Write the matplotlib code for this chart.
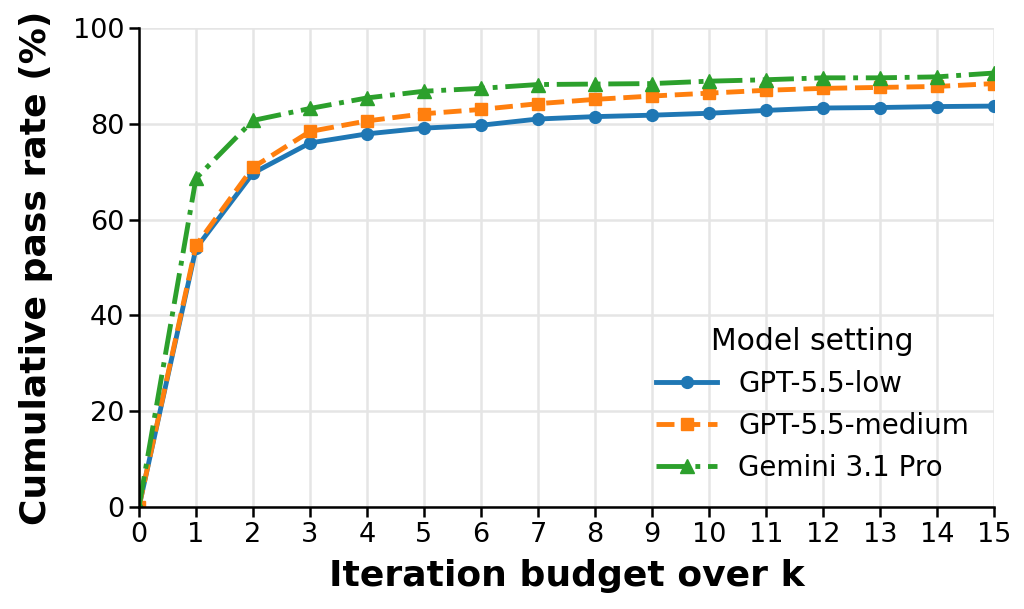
import matplotlib
matplotlib.use("Agg")
import matplotlib.pyplot as plt

# iteration budget k
k = list(range(16))

gpt_low = [0, 54.0, 69.7, 76.0, 77.9, 79.1, 79.7, 81.0, 81.5, 81.8, 82.2, 82.8, 83.3, 83.4, 83.6, 83.7]
gpt_medium = [0, 54.6, 70.9, 78.4, 80.6, 82.1, 83.0, 84.2, 85.1, 85.8, 86.4, 87.0, 87.4, 87.6, 87.8, 88.4]
gemini = [0, 68.6, 80.7, 83.2, 85.4, 86.8, 87.4, 88.2, 88.3, 88.4, 88.9, 89.2, 89.6, 89.6, 89.8, 90.6]

fig = plt.figure(figsize=(10.24, 6.09), dpi=100)
ax = fig.add_axes([0.1357, 0.1675, 0.835, 0.7865])

ax.plot(k, gpt_low, color="#1f77b4", linestyle="-", marker="o", markersize=8.5,
        linewidth=3.5, label="GPT-5.5-low")
ax.plot(k, gpt_medium, color="#ff7f0e", linestyle="--", marker="s", markersize=8.5,
        linewidth=3.5, label="GPT-5.5-medium")
ax.plot(k, gemini, color="#2ca02c", linestyle="-.", marker="^", markersize=9.5,
        linewidth=3.5, label="Gemini 3.1 Pro")

ax.set_xlim(0, 15)
ax.set_ylim(0, 100)
ax.set_xticks(k)
ax.set_yticks([0, 20, 40, 60, 80, 100])
ax.tick_params(labelsize=19.5, width=1.8, length=7)
ax.grid(True, color="#e5e5e5", linewidth=1.8)
ax.set_axisbelow(True)

for s in ["top", "right"]:
    ax.spines[s].set_visible(False)
for s in ["left", "bottom"]:
    ax.spines[s].set_linewidth(1.8)

ax.set_xlabel("Iteration budget over k", fontsize=26, fontweight="bold", labelpad=8)
ax.set_ylabel("Cumulative pass rate (%)", fontsize=26, fontweight="bold", labelpad=14)

leg = ax.legend(title="Model setting", fontsize=20, title_fontsize=21.5,
                loc="lower right", frameon=False, handlelength=2.2,
                handletextpad=0.75, labelspacing=0.5)

fig.savefig("out.png", dpi=100)
